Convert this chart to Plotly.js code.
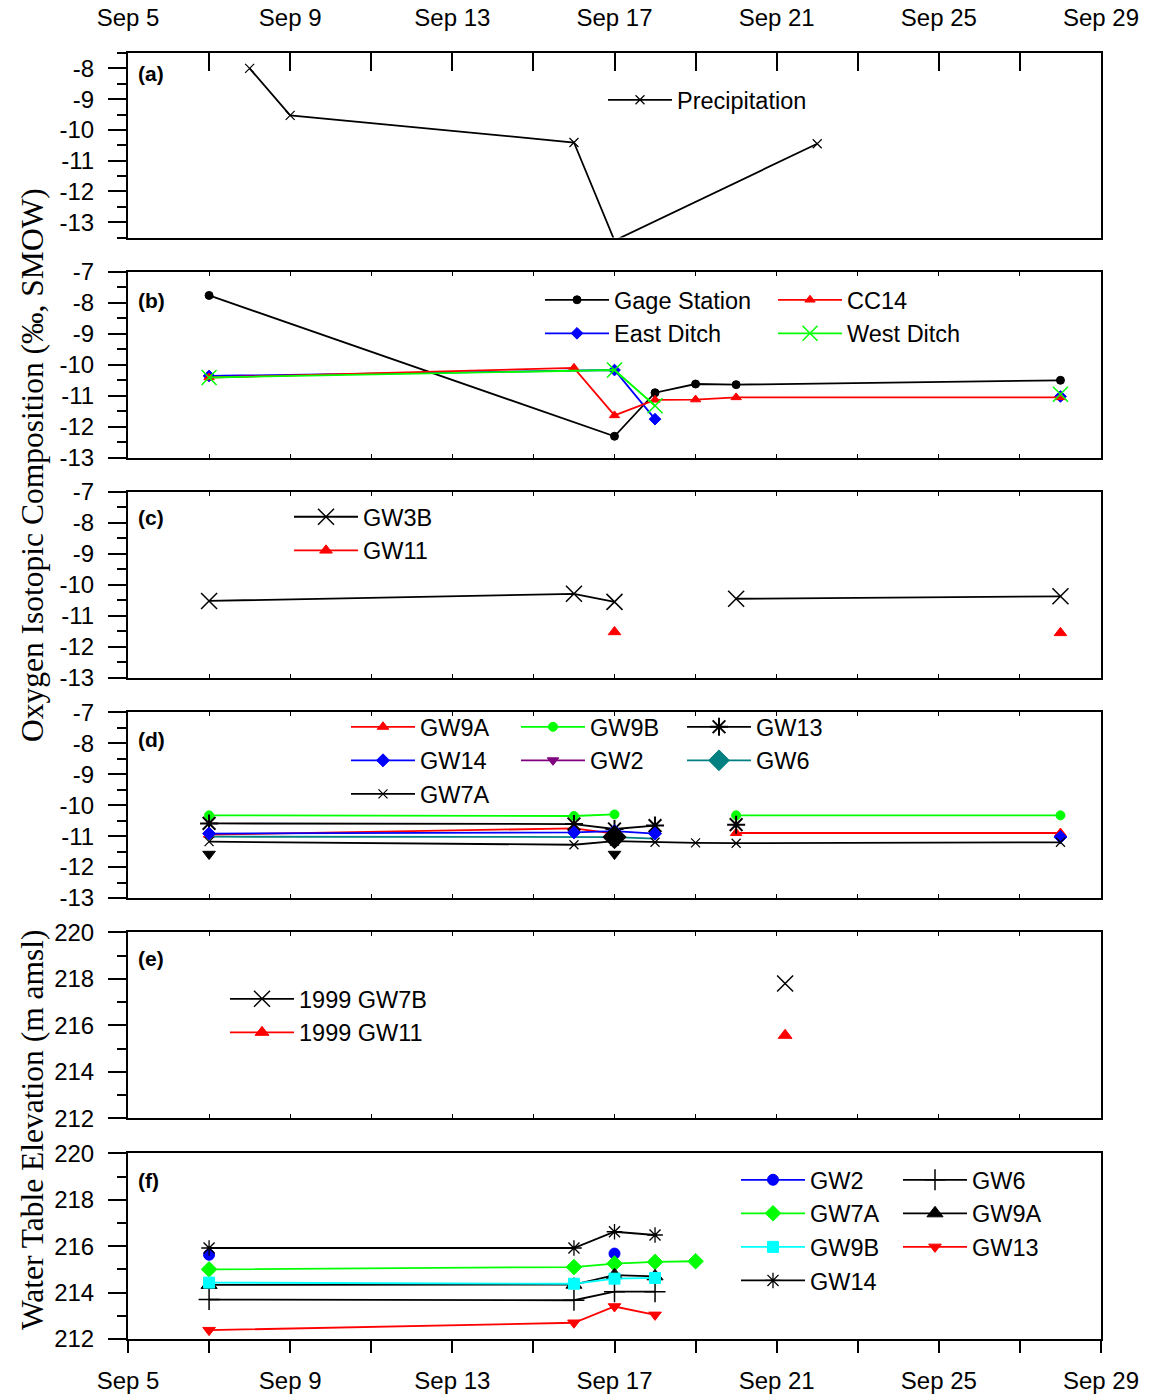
<!DOCTYPE html>
<html>
<head>
<meta charset="utf-8">
<script src="https://cdn.plot.ly/plotly-3.0.1.min.js"></script>
<style>html,body{margin:0;padding:0;background:#fff;}#chart{width:1152px;height:1395px;}</style>
</head>
<body>
<div id="chart"></div>
<script>
// ---------------- DATA ----------------
// x-axis tick labels
const xTickDates = ['1999-09-05','1999-09-09','1999-09-13','1999-09-17','1999-09-21','1999-09-25','1999-09-29'];
const xTickText = ['Sep 5','Sep 9','Sep 13','Sep 17','Sep 21','Sep 25','Sep 29'];
const isoTickVals = [-7,-8,-9,-10,-11,-12,-13];
const isoTickText = ['-7','-8','-9','-10','-11','-12','-13'];
const wtTickVals = [212,214,216,218,220];
const wtTickText = ['212','214','216','218','220'];

// (a) Precipitation
const precipDates = ['1999-09-08','1999-09-09','1999-09-16','1999-09-17','1999-09-22'];
const precipVals = [-8.0,-9.53,-10.41,-13.6,-10.45];

// (b) surface waters
const gageDates = ['1999-09-07','1999-09-17','1999-09-18','1999-09-19','1999-09-20','1999-09-28'];
const gageVals = [-7.77,-12.3,-10.9,-10.62,-10.64,-10.5];
const cc14Dates = ['1999-09-07','1999-09-16','1999-09-17','1999-09-18','1999-09-19','1999-09-20','1999-09-28'];
const cc14Vals = [-10.41,-10.1,-11.63,-11.13,-11.12,-11.05,-11.05];
const eastDates = ['1999-09-07','1999-09-17','1999-09-18','1999-09-19','1999-09-28'];
const eastVals = [-10.36,-10.17,-11.75,null,-11.02];
const westDates = ['1999-09-07','1999-09-17','1999-09-18','1999-09-19','1999-09-28'];
const westVals = [-10.41,-10.17,-11.32,null,-10.95];

// (c)
const gw3bDates = ['1999-09-07','1999-09-16','1999-09-17','1999-09-18','1999-09-20','1999-09-28'];
const gw3bVals = [-10.53,-10.3,-10.56,null,-10.46,-10.38];
const gw11cDates = ['1999-09-17','1999-09-18','1999-09-28'];
const gw11cVals = [-11.53,null,-11.56];

// (d) groundwater isotopes
const gw9aDDates = ['1999-09-07','1999-09-16','1999-09-17','1999-09-18','1999-09-20','1999-09-28'];
const gw9aDVals = [-10.95,-10.75,-10.92,null,-10.9,-10.9];
const gw9bDDates = ['1999-09-07','1999-09-16','1999-09-17','1999-09-18','1999-09-20','1999-09-28'];
const gw9bDVals = [-10.33,-10.35,-10.3,null,-10.33,-10.33];
const gw13DDates = ['1999-09-07','1999-09-16','1999-09-17','1999-09-18','1999-09-19','1999-09-20'];
const gw13DVals = [-10.59,-10.61,-10.77,-10.66,null,-10.63];
const gw14DDates = ['1999-09-07','1999-09-16','1999-09-17','1999-09-18','1999-09-19','1999-09-28'];
const gw14DVals = [-10.92,-10.88,-10.84,-10.92,null,-11.03];
const gw2DDates = ['1999-09-07','1999-09-17'];
const gw2DVals = [-11.58,-11.58];
const gw6DDates = ['1999-09-07','1999-09-16','1999-09-17','1999-09-18'];
const gw6DVals = [-11.02,-11.02,-11.03,-11.08];
const gw6DMarkDates = ['1999-09-17'];
const gw6DMarkVals = [-11.03];
const gw7aDDates = ['1999-09-07','1999-09-16','1999-09-17','1999-09-18','1999-09-19','1999-09-20','1999-09-28'];
const gw7aDVals = [-11.18,-11.28,-11.16,-11.2,-11.22,-11.23,-11.2];

// (e) 1999 water table
const gw7bEDates = ['1999-09-21 05:00'];
const gw7bEVals = [217.8];
const gw11EDates = ['1999-09-21 05:00'];
const gw11EVals = [215.57];

// (f) water table
const gw2FDates = ['1999-09-07','1999-09-16','1999-09-17'];
const gw2FVals = [215.63,null,215.68];
const gw6FDates = ['1999-09-07','1999-09-16','1999-09-17','1999-09-18'];
const gw6FVals = [213.7,213.67,214.04,214.04];
const gw7aFDates = ['1999-09-07','1999-09-16','1999-09-17','1999-09-18','1999-09-19'];
const gw7aFVals = [215.0,215.1,215.25,215.32,215.35];
const gw9aFDates = ['1999-09-07','1999-09-16','1999-09-17','1999-09-18'];
const gw9aFVals = [214.33,214.34,214.75,214.7];
const gw9bFDates = ['1999-09-07','1999-09-16','1999-09-17','1999-09-18'];
const gw9bFVals = [214.43,214.38,214.6,214.63];
const gw13FDates = ['1999-09-07','1999-09-16','1999-09-17','1999-09-18'];
const gw13FVals = [212.38,212.7,213.4,213.04];
const gw14FDates = ['1999-09-07','1999-09-16','1999-09-17','1999-09-18'];
const gw14FVals = [215.92,215.92,216.62,216.48];

// ---------------- STYLE HELPERS ----------------
const SANS = 'Liberation Sans, Arial, sans-serif';
const SERIF = 'Liberation Serif, Times New Roman, serif';
const LW = 1.8;
const TICKFS = 24;
const LEGFS = 23.5;
const RED = '#ff0000', BLUE = '#0000ff', LIME = '#00ff00', TEAL = '#008080', PURPLE = '#800080', CYAN = '#00ffff', BLACK = '#000000';

function tr(name, xs, ys, panel, legend, color, symbol, size, opts) {
  opts = opts || {};
  return {
    type: 'scatter', name: name, x: xs, y: ys,
    xaxis: panel === 1 ? 'x' : 'x' + panel,
    yaxis: panel === 1 ? 'y' : 'y' + panel,
    mode: opts.mode || 'lines+markers',
    connectgaps: false,
    cliponaxis: false,
    line: {color: opts.lineColor || color, width: LW},
    marker: {color: opts.markerColor || color, symbol: symbol, size: size,
             line: {color: opts.markerColor || color, width: opts.mlw || 1}},
    legend: legend,
    showlegend: opts.showlegend !== undefined ? opts.showlegend : true,
    hoverinfo: 'skip'
  };
}

const traces = [
  // (a)
  tr('Precipitation', precipDates, precipVals, 1, 'legend', BLACK, 'x-thin-open', 9, {mlw: 1.2}),
  // (b)
  tr('Gage Station', gageDates, gageVals, 2, 'legend2', BLACK, 'circle', 8),
  tr('East Ditch', eastDates, eastVals, 2, 'legend2', BLUE, 'diamond', 9),
  tr('CC14', cc14Dates, cc14Vals, 2, 'legend3', RED, 'triangle-up', 9),
  tr('West Ditch', westDates, westVals, 2, 'legend3', LIME, 'x-thin-open', 15, {mlw: 1.5}),
  // (c)
  tr('GW3B', gw3bDates, gw3bVals, 3, 'legend4', BLACK, 'x-thin-open', 16, {mlw: 1.5}),
  tr('GW11', gw11cDates, gw11cVals, 3, 'legend4', RED, 'triangle-up', 11),
  // (d)
  tr('GW9A', gw9aDDates, gw9aDVals, 4, 'legend5', RED, 'triangle-up', 10),
  tr('GW9B', gw9bDDates, gw9bDVals, 4, 'legend6', LIME, 'circle', 9),
  tr('GW13', gw13DDates, gw13DVals, 4, 'legend7', BLACK, 'asterisk-open', 15, {mlw: 2}),
  tr('GW6', gw6DDates, gw6DVals, 4, 'legend7', TEAL, 'diamond', 16, {mode: 'lines', showlegend: false}),
  tr('GW14', gw14DDates, gw14DVals, 4, 'legend5', BLUE, 'diamond', 10),
  tr('GW2', gw2DDates, gw2DVals, 4, 'legend6', BLACK, 'triangle-down', 11, {mode: 'markers', showlegend: false}),
  tr('GW2', [null], [null], 4, 'legend6', PURPLE, 'triangle-down', 10),
  tr('GW6', gw6DMarkDates, gw6DMarkVals, 4, 'legend7', BLACK, 'diamond', 18, {mode: 'markers', showlegend: false}),
  tr('GW6', [null], [null], 4, 'legend7', TEAL, 'diamond', 16),
  tr('GW7A', gw7aDDates, gw7aDVals, 4, 'legend5', BLACK, 'x-thin-open', 9, {mlw: 1.2}),
  // (e)
  tr('1999 GW7B', gw7bEDates, gw7bEVals, 5, 'legend8', BLACK, 'x-thin-open', 16, {mlw: 1.5}),
  tr('1999 GW11', gw11EDates, gw11EVals, 5, 'legend8', RED, 'triangle-up', 12),
  // (f)
  tr('GW2', gw2FDates, gw2FVals, 6, 'legend9', BLUE, 'circle', 11),
  tr('GW6', gw6FDates, gw6FVals, 6, 'legend10', BLACK, 'cross-thin-open', 15, {mlw: 1.5}),
  tr('GW7A', gw7aFDates, gw7aFVals, 6, 'legend9', LIME, 'diamond', 12),
  tr('GW9A', gw9aFDates, gw9aFVals, 6, 'legend10', BLACK, 'triangle-up', 14),
  tr('GW9B', gw9bFDates, gw9bFVals, 6, 'legend9', CYAN, 'square', 11),
  tr('GW13', gw13FDates, gw13FVals, 6, 'legend10', RED, 'triangle-down', 11),
  tr('GW14', gw14FDates, gw14FVals, 6, 'legend9', BLACK, 'asterisk-open', 13, {mlw: 1.3})
];

// ---------------- LAYOUT ----------------
const W = 1152, H = 1395, ML = 128, MR = 51, MT = 53, MB = 56;
const PW = W - ML - MR, PH = H - MT - MB;
const py = p => (H - MB - p) / PH;      // pixel y -> paper
const px = p => (p - ML) / PW;          // pixel x -> paper

// panel pixel bounds [top, bottom]
const panels = [[53, 237.5], [271.5, 458], [491.5, 677.5], [712.3, 898], [932.3, 1118.3], [1153.3, 1339]];
const yRanges = [[-13.5, -7.5], [-13, -7], [-13, -7], [-13, -7], [212, 220], [212, 220]];
const DAY = 86400000;
const xRange = ['1999-09-05', '1999-09-29'];

const layout = {
  width: W, height: H,
  margin: {l: ML, r: MR, t: MT, b: MB, pad: 0},
  paper_bgcolor: '#ffffff', plot_bgcolor: '#ffffff',
  font: {family: SANS, size: TICKFS, color: '#000'},
  showlegend: true,
  hovermode: false,
  annotations: []
};

for (let i = 0; i < 6; i++) {
  const n = i + 1;
  const xk = n === 1 ? 'xaxis' : 'xaxis' + n;
  const yk = n === 1 ? 'yaxis' : 'yaxis' + n;
  const yid = n === 1 ? 'y' : 'y' + n;
  const xid = n === 1 ? 'x' : 'x' + n;
  const dom = [py(panels[i][1]), py(panels[i][0])];
  const iso = i < 4;
  const xa = {
    type: 'date', range: xRange, anchor: yid, domain: [0, 1],
    showline: true, linecolor: '#000', linewidth: 2, mirror: true,
    showgrid: false, zeroline: false,
    tickmode: 'array', tickvals: xTickDates, ticktext: xTickText,
    tickfont: {family: SANS, size: TICKFS, color: '#000'},
    fixedrange: true
  };
  if (n === 1) {
    Object.assign(xa, {side: 'top', ticks: 'inside', ticklen: 18, tickwidth: 1.5, tickcolor: '#000',
      showticklabels: true, ticklabelstandoff: 15,
      minor: {ticks: 'inside', ticklen: 18, tickwidth: 1.5, tickcolor: '#000', dtick: 2 * DAY, tick0: '1999-09-05'}});
  } else if (n === 6) {
    Object.assign(xa, {side: 'bottom', ticks: 'outside', ticklen: 12, tickwidth: 1.5, tickcolor: '#000',
      showticklabels: true, ticklabelstandoff: 7,
      minor: {ticks: 'outside', ticklen: 12, tickwidth: 1.5, tickcolor: '#000', dtick: 2 * DAY, tick0: '1999-09-05'}});
  } else {
    Object.assign(xa, {ticks: 'inside', ticklen: 4, tickwidth: 1, tickcolor: '#000', mirror: 'ticks',
      showticklabels: false,
      minor: {ticks: 'inside', ticklen: 4, tickwidth: 1, tickcolor: '#000', dtick: 2 * DAY, tick0: '1999-09-05'}});
  }
  if (n !== 1) xa.matches = 'x';
  layout[xk] = xa;

  const tv = iso ? isoTickVals : wtTickVals;
  const tt = iso ? isoTickText : wtTickText;
  const minorD = iso ? 0.5 : 1;
  layout[yk] = {
    range: yRanges[i], domain: dom, anchor: xid,
    showline: true, linecolor: '#000', linewidth: 2, mirror: true,
    showgrid: false, zeroline: false,
    tickmode: 'array', tickvals: tv, ticktext: tt,
    ticks: 'outside', ticklen: 18, tickwidth: 1.5, tickcolor: '#000',
    minor: {ticks: 'outside', ticklen: 9, tickwidth: 1.5, tickcolor: '#000', dtick: minorD, tick0: 0},
    tickfont: {family: SANS, size: TICKFS, color: '#000'},
    ticklabelstandoff: 9,
    fixedrange: true
  };
  // right-side inward ticks
  const rk = 'yaxis' + (n + 6);
  layout[rk] = {
    range: yRanges[i], overlaying: yid, side: 'right', anchor: xid,
    showline: false, showgrid: false, zeroline: false,
    tickmode: 'array', tickvals: tv, showticklabels: false,
    ticks: 'inside', ticklen: 18, tickwidth: 1.5, tickcolor: '#000',
    minor: {ticks: 'inside', ticklen: 9, tickwidth: 1.5, tickcolor: '#000', dtick: minorD, tick0: 0},
    fixedrange: true
  };
}

// panel labels
const panelLabels = ['(a)', '(b)', '(c)', '(d)', '(e)', '(f)'];
const labelCenters = [74, 300, 517, 739, 958, 1180];
panelLabels.forEach((lab, i) => {
  layout.annotations.push({
    text: '<b>' + lab + '</b>', xref: 'paper', yref: 'paper',
    x: px(136), y: py(labelCenters[i]), xanchor: 'left', yanchor: 'middle',
    showarrow: false, font: {family: SANS, size: 21, color: '#000'}
  });
});

// axis titles (spanning several panels)
layout.annotations.push({
  text: 'Oxygen Isotopic Composition (‰, SMOW)', xref: 'paper', yref: 'paper',
  x: px(32), y: py(465), xanchor: 'center', yanchor: 'middle', textangle: -90,
  showarrow: false, font: {family: SERIF, size: 31.5, color: '#000'}
});
layout.annotations.push({
  text: 'Water Table Elevation (m amsl)', xref: 'paper', yref: 'paper',
  x: px(32), y: py(1130), xanchor: 'center', yanchor: 'middle', textangle: -90,
  showarrow: false, font: {family: SERIF, size: 31.5, color: '#000'}
});

// legends: [name, line-start pixel x, first row center pixel y]
const legendSpots = [
  ['legend', 608, 100], ['legend2', 545, 300], ['legend3', 778, 300],
  ['legend4', 294, 517], ['legend5', 351, 727], ['legend6', 521, 727], ['legend7', 687, 727],
  ['legend8', 230, 999], ['legend9', 741, 1180], ['legend10', 903, 1180]
];
legendSpots.forEach(([k, lx, ly]) => {
  layout[k] = {
    x: px(lx - 5), y: py(ly - 22), xanchor: 'left', yanchor: 'top',
    orientation: 'v', bgcolor: 'rgba(0,0,0,0)', borderwidth: 0,
    font: {family: SANS, size: LEGFS, color: '#000'},
    itemwidth: 64, tracegroupgap: 0, traceorder: 'normal',
    itemclick: false, itemdoubleclick: false
  };
});

Plotly.newPlot('chart', traces, layout, {displayModeBar: false, responsive: false});
</script>
</body>
</html>
